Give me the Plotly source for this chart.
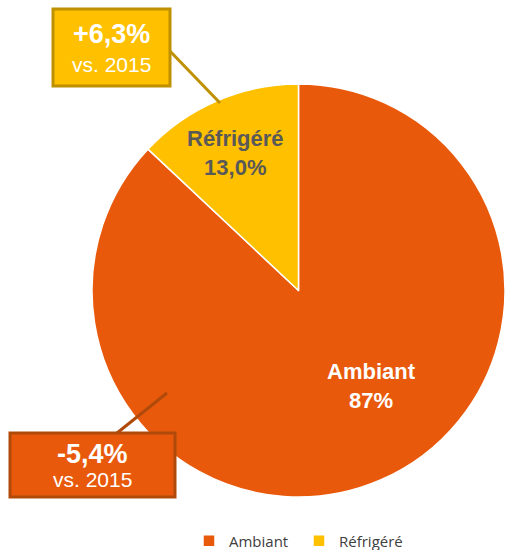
import plotly.graph_objects as go

# data
categories = ["Ambiant", "Réfrigéré"]
shares = [87.0, 13.0]
share_labels = ["87%", "13,0%"]
changes = ["-5,4%", "+6,3%"]
change_ref = "vs. 2015"

colors = ["#E8590C", "#FFC000"]
dark_colors = ["#B04A0A", "#BF9000"]

W, H = 505, 550


def px(x):
    return x / W


def py(y):
    return 1 - y / H


fig = go.Figure()

fig.add_trace(go.Pie(
    labels=categories,
    values=shares,
    sort=False,
    direction="clockwise",
    rotation=0,
    textinfo="none",
    hoverinfo="label+percent",
    marker=dict(colors=colors, line=dict(color="white", width=1.5)),
    domain=dict(x=[px(92), px(505)], y=[py(498), py(83)]),
))

shapes = []
annotations = []

# slice labels
label_pos = [(371, 386), (235, 153)]
label_colors = ["white", "#595959"]
for cat, lab, (x, y), c in zip(categories, share_labels, label_pos, label_colors):
    annotations.append(dict(
        x=px(x), y=py(y), xref="paper", yref="paper",
        xanchor="center", yanchor="middle",
        text=f"<b>{cat}<br>{lab}</b>", showarrow=False,
        font=dict(family="Liberation Sans, Arial", size=22, color=c),
    ))

# callout boxes (Ambiant bottom-left, Réfrigéré top-left)
boxes = [(10, 433, 175, 497), (53, 9, 170, 86)]
leaders = [((167, 393), (117, 433)), ((167, 48), (220, 103))]
for i, (x0, y0, x1, y1) in enumerate(boxes):
    (lx0, ly0), (lx1, ly1) = leaders[i]
    shapes.append(dict(
        type="line", xref="paper", yref="paper",
        x0=px(lx0), y0=py(ly0), x1=px(lx1), y1=py(ly1),
        line=dict(color=dark_colors[i], width=3),
    ))
    shapes.append(dict(
        type="rect", xref="paper", yref="paper",
        x0=px(x0), y0=py(y0), x1=px(x1), y1=py(y1),
        fillcolor=colors[i], line=dict(color=dark_colors[i], width=3),
    ))
    cx = (x0 + x1) / 2
    annotations.append(dict(
        x=px(cx), y=py(y0 + (y1 - y0) * 0.33), xref="paper", yref="paper",
        xanchor="center", yanchor="middle",
        text=f"<b>{changes[i]}</b>", showarrow=False,
        font=dict(family="Liberation Sans, Arial", size=27, color="white"),
    ))
    annotations.append(dict(
        x=px(cx), y=py(y0 + (y1 - y0) * 0.72), xref="paper", yref="paper",
        xanchor="center", yanchor="middle",
        text=change_ref, showarrow=False,
        font=dict(family="Liberation Sans, Arial", size=21, color="white"),
    ))

fig.update_layout(
    width=W, height=H,
    margin=dict(l=0, r=0, t=0, b=0, autoexpand=False),
    paper_bgcolor="white",
    plot_bgcolor="white",
    shapes=shapes,
    annotations=annotations,
    showlegend=True,
    legend=dict(
        orientation="h", x=px(189), xanchor="left", y=py(541), yanchor="middle",
        font=dict(family="Open Sans", size=15, color="#404040"),
        itemwidth=30, entrywidth=65,
    ),
)

# drop the default page margin so the figure sits flush in the window
fig.write_html(
    "out.html",
    config={"displayModeBar": False},
    post_script="document.body.style.margin='0';document.body.style.overflow='hidden';",
)
